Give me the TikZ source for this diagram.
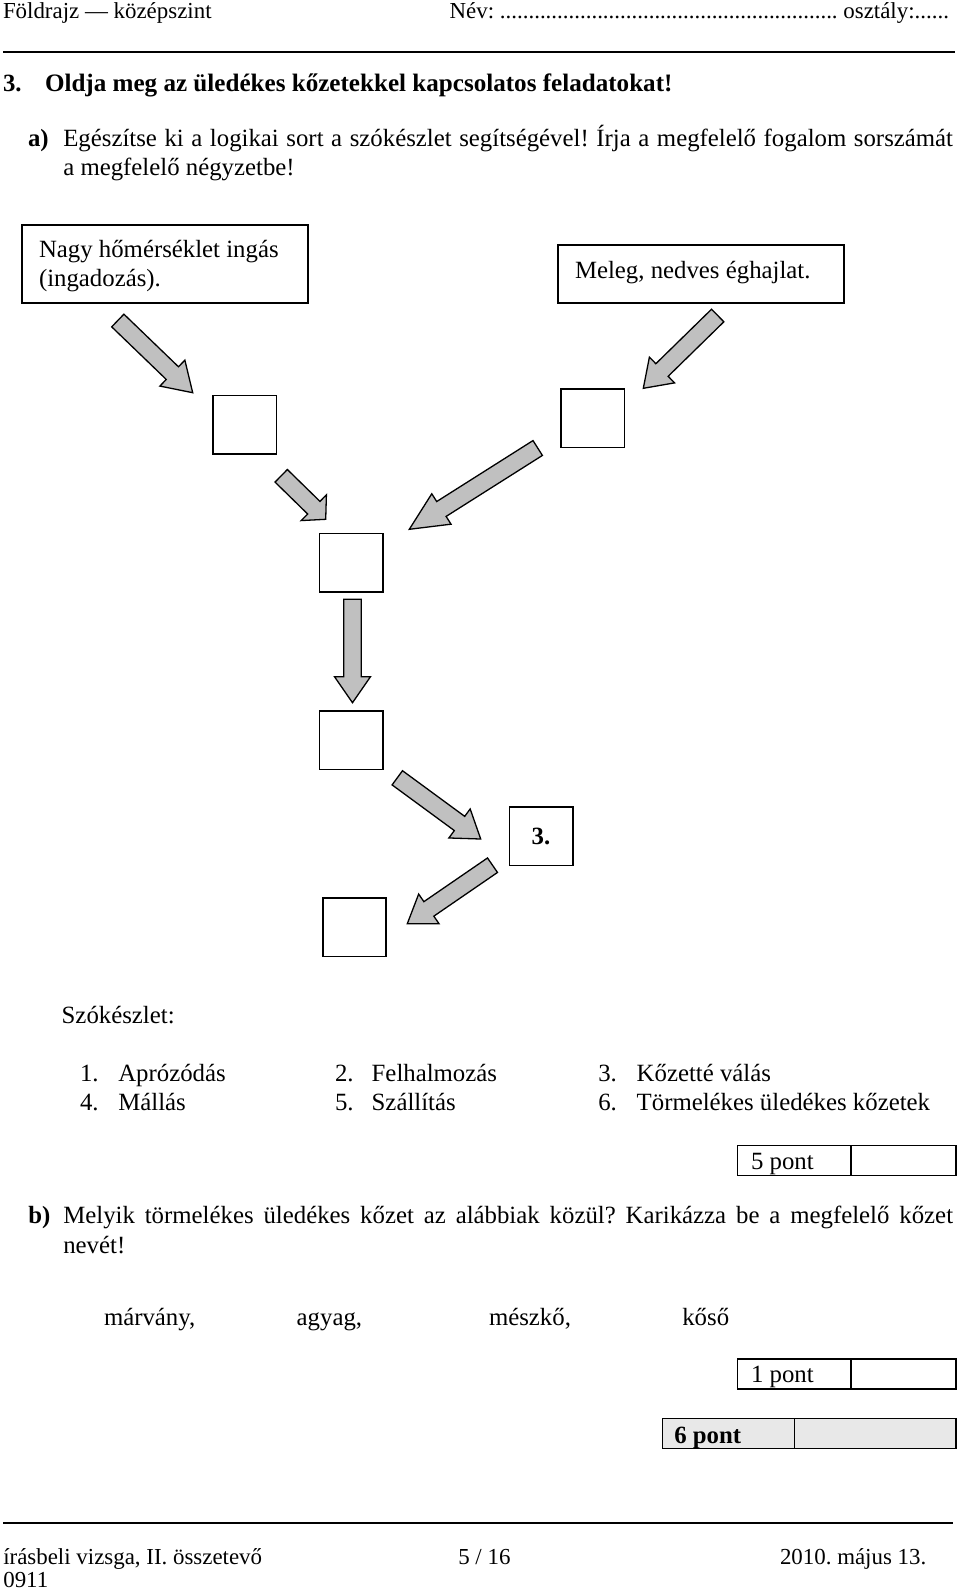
\documentclass[tikz,border=0pt]{standalone}
\usepackage{fontspec}
\setmainfont{Liberation Serif}
\usetikzlibrary{calc}
\definecolor{arrowgray}{RGB}{192,192,192}
\definecolor{cellgray}{RGB}{232,232,232}
\tikzset{
  txt/.style={anchor=base west, inner sep=0pt, outer sep=0pt, font=\fontsize{24.8}{29}\selectfont},
  bftxt/.style={txt, font=\fontsize{24.8}{29}\selectfont\bfseries},
  hf/.style={anchor=base west, inner sep=0pt, outer sep=0pt, font=\fontsize{22.9}{27}\selectfont},
  sq/.style={draw, line width=1.6pt, minimum width=63.4pt, minimum height=58.6pt, anchor=north west, inner sep=0pt, outer sep=0pt},
  tbox/.style={draw, line width=2pt, anchor=north west, inner sep=0pt, outer sep=0pt},
  cell/.style={draw, line width=1.5pt, anchor=north west, inner sep=0pt, outer sep=0pt, minimum height=30pt},
  rulestyle/.style={line width=2pt},
  barrow/.style={draw=black, fill=arrowgray, line width=1.3pt, line join=miter, miter limit=10},
}
% block arrow: tail centre, tip, head length
\newcommand\blockarrow[3]{%
  \path[barrow] let \p1=(#1), \p2=(#2),
      \n1={atan2(\y2-\y1,\x2-\x1)},
      \n2={veclen(\x2-\x1,\y2-\y1)-#3} in
    ($(\p1)+(\n1+90:8.8pt)$) --
    ($(\p1)+(\n1:\n2)+(\n1+90:8.8pt)$) --
    ($(\p1)+(\n1:\n2)+(\n1+90:18pt)$) --
    (\p2) --
    ($(\p1)+(\n1:\n2)+(\n1-90:18pt)$) --
    ($(\p1)+(\n1:\n2)+(\n1-90:8.8pt)$) --
    ($(\p1)+(\n1-90:8.8pt)$) -- cycle;
}
\begin{document}
\frenchspacing
\begin{tikzpicture}[x=1pt, y=-1pt]
\fill[white] (0,0) rectangle (960,1591);
\useasboundingbox (0,0) rectangle (960,1591);

% header
\node[hf] (hdrL) at (3,18.3) {Földrajz — középszint};
\node[hf, anchor=base east] (hdrR) at (949,18.3) {Név: ........................................................... osztály:......};
\coordinate (hr1) at (3,51.7);
\coordinate (hr2) at (955,51.7);
\draw[rulestyle] (hr1) -- (hr2);

% title
\node[bftxt] (tnum) at (3,91.7) {3.};
\node[bftxt, font=\fontsize{25.1}{29}\selectfont\bfseries] (title) at (45,91.7) {Oldja meg az üledékes kőzetekkel kapcsolatos feladatokat!};

% a)
\node[bftxt] (alab) at (28,146.7) {a)};
\node[txt] (al1) at (63.3,146.7) {\makebox[889.7pt][s]{Egészítse ki a logikai sort a szókészlet segítségével! Írja a megfelelő fogalom sorszámát}};
\node[txt] (al2) at (63.3,175) {a megfelelő négyzetbe!};

% top boxes
\node[tbox, minimum width=286pt, minimum height=78pt] (box1) at (22,225) {};
\node[txt] (box1a) at (39,257) {Nagy hőmérséklet ingás};
\node[txt] (box1b) at (39,286) {(ingadozás).};
\node[tbox, minimum width=286pt, minimum height=58pt] (box2) at (558,245) {};
\node[txt] (box2a) at (575,278) {Meleg, nedves éghajlat.};

% squares
\node[sq] (s1) at (213,395.3) {};
\node[sq] (s2) at (561,389) {};
\node[sq] (s3) at (319.3,533.3) {};
\node[sq] (s4) at (319.3,710.7) {};
\node[sq, font=\fontsize{24.8}{29}\selectfont\bfseries] (s5) at (509.3,806.7) {3.};
\node[sq] (s6) at (322.7,897.7) {};

% arrows
\coordinate (a1s) at (117.8,320.5);  \coordinate (a1e) at (192.7,392.7);
\coordinate (a2s) at (717.7,315.5);  \coordinate (a2e) at (643.3,388.3);
\coordinate (a3s) at (281.2,475.8);  \coordinate (a3e) at (325.7,519.3);
\coordinate (a4s) at (537.7,448);    \coordinate (a4e) at (409.3,529.3);
\coordinate (a5s) at (352.5,599.3);  \coordinate (a5e) at (352.5,702.7);
\coordinate (a6s) at (397.3,777.8);  \coordinate (a6e) at (480.7,839);
\coordinate (a7s) at (492.5,865.2);  \coordinate (a7e) at (407.3,923.7);
\blockarrow{a1s}{a1e}{28}
\blockarrow{a2s}{a2e}{26}
\blockarrow{a3s}{a3e}{16.5}
\blockarrow{a4s}{a4e}{38}
\blockarrow{a5s}{a5e}{26}
\blockarrow{a6s}{a6e}{26}
\blockarrow{a7s}{a7e}{26}

% word list
\node[txt] (szk) at (61.7,1023.3) {Szókészlet:};
\node[txt] (n1) at (80,1081.7) {1.};    \node[txt] (w1) at (118.3,1081.7) {Aprózódás};
\node[txt] (n2) at (335,1081.7) {2.};   \node[txt] (w2) at (371.7,1081.7) {Felhalmozás};
\node[txt] (n3) at (598.3,1081.7) {3.}; \node[txt] (w3) at (636.7,1081.7) {Kőzetté válás};
\node[txt] (n4) at (80,1110.5) {4.};    \node[txt] (w4) at (118.3,1110.5) {Mállás};
\node[txt] (n5) at (335,1110.5) {5.};   \node[txt] (w5) at (371.7,1110.5) {Szállítás};
\node[txt] (n6) at (598.3,1110.5) {6.}; \node[txt] (w6) at (636.7,1110.5) {Törmelékes üledékes kőzetek};

% 5 pont
\node[cell, minimum width=113.3pt] (p5a) at (737.7,1145.7) {};
\node[cell, minimum width=105pt] (p5b) at (851,1145.7) {};
\node[txt] (p5t) at (751,1169.3) {5 pont};

% b)
\node[bftxt] (blab) at (28.3,1223.3) {b)};
\node[txt] (bl1) at (63.3,1223.3) {\makebox[889.7pt][s]{Melyik törmelékes üledékes kőzet az alábbiak közül? Karikázza be a megfelelő kőzet}};
\node[txt] (bl2) at (63.3,1253.3) {nevét!};

\node[txt] (r1) at (104,1325) {márvány,};
\node[txt] (r2) at (296.7,1325) {agyag,};
\node[txt] (r3) at (489,1325) {mészkő,};
\node[txt] (r4) at (682.3,1325) {kőső};

% 1 pont
\node[cell, minimum width=113.3pt] (p1a) at (737.7,1359) {};
\node[cell, minimum width=105pt] (p1b) at (851,1359) {};
\node[txt] (p1t) at (751,1382.3) {1 pont};

% 6 pont
\node[cell, fill=cellgray, minimum width=131.6pt] (p6a) at (662.7,1418.7) {};
\node[cell, fill=cellgray, minimum width=161.7pt] (p6b) at (794.3,1418.7) {};
\node[bftxt] (p6t) at (674.3,1443.3) {6 pont};

% footer
\coordinate (fr1) at (3,1523.3);
\coordinate (fr2) at (953,1523.3);
\draw[rulestyle] (fr1) -- (fr2);
\node[hf] (ft1) at (3.3,1564) {írásbeli vizsga, II. összetevő};
\node[hf] (ft2) at (3.3,1587.5) {0911};
\node[hf] (ft3) at (458.3,1564) {5 / 16};
\node[hf] (ft4) at (780,1564) {2010. május 13.};
\end{tikzpicture}
\end{document}
